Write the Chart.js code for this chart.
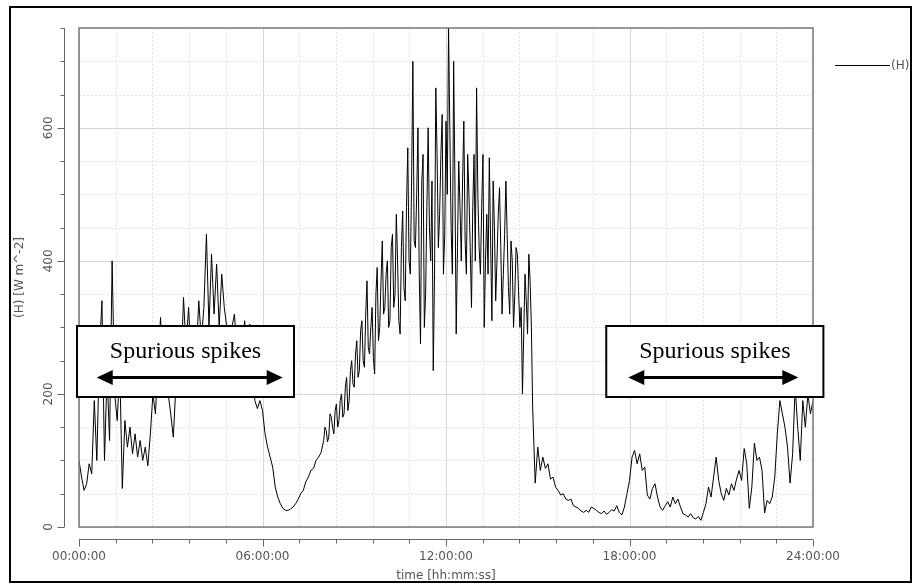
<!DOCTYPE html>
<html>
<head>
<meta charset="utf-8">
<script src="https://cdn.jsdelivr.net/npm/chart.js@4"></script>
<style>
  html, body { margin: 0; padding: 0; background: #fff; }
</style>
</head>
<body>
<canvas id="fluxChart" width="913" height="584"></canvas>
<script>
// sensible heat flux, one value every 5 minutes over the day
const seriesLabel = '(H)';
const sampleMinutes = 5;
const hValues = [
  100, 75, 55, 65, 95, 80, 190, 100, 260, 340, 100, 230,     // 00h
  130, 400, 200, 160, 240, 58, 160, 120, 150, 110, 140, 105, // 01h
  130, 100, 120, 92, 140, 200, 170, 250, 315, 220, 260, 200, // 02h
  170, 135, 210, 260, 230, 345, 270, 330, 250, 290, 260, 340, // 03h
  280, 330, 440, 300, 410, 320, 395, 300, 380, 330, 300, 280, // 04h
  300, 320, 260, 290, 270, 310, 250, 305, 240, 190, 178, 190, // 05h
  175, 140, 120, 105, 90, 60, 45, 35, 28, 25, 25, 27,         // 06h
  30, 35, 42, 50, 55, 68, 75, 85, 88, 100, 105, 112,          // 07h
  130, 145, 135, 165, 140, 185, 160, 200, 170, 225, 190, 250, // 08h
  210, 280, 235, 310, 240, 370, 260, 330, 230, 390, 300, 430, // 09h
  330, 400, 310, 440, 350, 400, 290, 475, 340, 570, 380, 700, // 10h
  420, 600, 275, 560, 350, 600, 400, 235, 660, 420, 560, 380, // 11h
  610, 750, 450, 700, 290, 550, 400, 610, 380, 500, 330, 560, // 12h
  660, 420, 480, 300, 470, 555, 310, 450, 400, 510, 320, 440, // 13h
  440, 320, 400, 350, 410, 300, 200, 380, 290, 370, 180, 66,  // 14h
  120, 85, 105, 88, 95, 72, 75, 60, 55, 48, 50, 42,           // 15h
  40, 42, 32, 30, 28, 24, 22, 25, 22, 30, 28, 25,             // 16h
  22, 20, 24, 19, 22, 26, 24, 32, 22, 18, 30, 50,             // 17h
  70, 105, 115, 95, 110, 85, 90, 48, 42, 58, 65, 45,          // 18h
  30, 25, 32, 38, 30, 45, 35, 42, 30, 20, 18, 15,             // 19h
  20, 14, 12, 16, 10, 22, 35, 60, 45, 75, 105, 70,            // 20h
  50, 40, 58, 48, 65, 55, 72, 85, 70, 118, 95, 28,            // 21h
  60, 126, 100, 105, 85, 21, 40, 35, 45, 75, 140, 190,        // 22h
  170, 150, 120, 66, 110, 210, 150, 100, 190, 150, 200, 170,  // 23h
  190                                                         // 24h
];
// extra readings halfway between samples in the noisy midday band (08:00-14:50)
const halfStepFrom = 96;
const hHalfValues = [
  150, 128, 170, 150, 175, 150, 190, 165, 210, 175, 235, 215, // 08h
  260, 225, 295, 250, 320, 270, 300, 255, 350, 280, 370, 320, // 09h
  380, 300, 420, 330, 470, 310, 420, 360, 480, 400, 520, 430, // 10h
  500, 380, 520, 300, 480, 450, 520, 380, 560, 470, 620, 440, // 11h
  500, 600, 380, 520, 420, 480, 520, 430, 560, 420, 480, 400, // 12h
  500, 380, 560, 400, 380, 430, 520, 340, 470, 420, 380, 520, // 13h
  360, 430, 300, 420, 350, 330, 290, 340, 410, 300            // 14h
];

const yMajorTicks = [0, 200, 400, 600];
const yMinorStep = 50;
const yMax = 750;
const xMajorTicks = [0, 6, 12, 18, 24];
const xTickLabels = ['00:00:00', '06:00:00', '12:00:00', '18:00:00', '24:00:00'];
const xMinorStep = 1.2;
const xTitle = 'time [hh:mm:ss]';
const yTitle = '(H) [W m^-2]';
const noteText = 'Spurious spikes';
// notes: box [fromHour, toHour] and arrow [fromHour, toHour]
const noteBoxes = [[-0.065, 7.03], [17.24, 24.34]];
const noteArrows = [[0.58, 6.66], [17.96, 23.52]];

const points = hValues.map((v, i) => ({ x: i * sampleMinutes / 60, y: v }))
  .concat(hHalfValues.map((v, j) => ({ x: (halfStepFrom + j + 0.5) * sampleMinutes / 60, y: v })))
  .sort((p, q) => p.x - q.x);

const labelFont = '12px "DejaVu Sans", sans-serif';
const labelColor = '#555';

const decor = {
  id: 'decor',
  beforeDatasetsDraw(chart) {
    const { ctx, chartArea: a, scales: { x, y } } = chart;
    ctx.save();
    ctx.lineWidth = 1;
    // minor grid, dotted
    ctx.strokeStyle = '#e3e3e3';
    ctx.setLineDash([2, 2]);
    for (let k = 0; k * yMinorStep <= yMax; k++) {
      const v = k * yMinorStep;
      if (yMajorTicks.includes(v)) continue;
      const py = Math.round(y.getPixelForValue(v)) + 0.5;
      ctx.beginPath(); ctx.moveTo(a.left, py); ctx.lineTo(a.right, py); ctx.stroke();
    }
    for (let k = 0; k <= 20; k++) {
      if (k % 5 === 0) continue;
      const px = Math.round(x.getPixelForValue(k * xMinorStep)) + 0.5;
      ctx.beginPath(); ctx.moveTo(px, a.top); ctx.lineTo(px, a.bottom); ctx.stroke();
    }
    // major grid, solid
    ctx.setLineDash([]);
    ctx.strokeStyle = '#d6d6d6';
    yMajorTicks.forEach(v => {
      const py = Math.round(y.getPixelForValue(v)) + 0.5;
      ctx.beginPath(); ctx.moveTo(a.left, py); ctx.lineTo(a.right, py); ctx.stroke();
    });
    xMajorTicks.forEach(h => {
      const px = Math.round(x.getPixelForValue(h)) + 0.5;
      ctx.beginPath(); ctx.moveTo(px, a.top); ctx.lineTo(px, a.bottom); ctx.stroke();
    });
    ctx.restore();
  },
  afterDraw(chart) {
    const { ctx, chartArea: a, scales: { x, y } } = chart;
    ctx.save();

    // plot frame
    ctx.strokeStyle = '#7a7a7a';
    ctx.lineWidth = 1.5;
    ctx.strokeRect(a.left, a.top, a.right - a.left, a.bottom - a.top);

    // detached y axis
    const axX = a.left - 14.5;
    ctx.strokeStyle = '#666';
    ctx.lineWidth = 1;
    ctx.beginPath(); ctx.moveTo(axX, a.top); ctx.lineTo(axX, a.bottom); ctx.stroke();
    for (let k = 0; k * yMinorStep <= yMax; k++) {
      const v = k * yMinorStep;
      const len = yMajorTicks.includes(v) ? 7 : 4;
      const py = Math.round(y.getPixelForValue(v)) + 0.5;
      ctx.beginPath(); ctx.moveTo(axX, py); ctx.lineTo(axX - len, py); ctx.stroke();
    }
    ctx.fillStyle = labelColor;
    ctx.font = labelFont;
    ctx.textAlign = 'center';
    ctx.textBaseline = 'middle';
    yMajorTicks.forEach(v => {
      ctx.save();
      ctx.translate(axX - 16, y.getPixelForValue(v));
      ctx.rotate(-Math.PI / 2);
      ctx.fillText(String(v), 0, 0);
      ctx.restore();
    });
    ctx.save();
    ctx.translate(20, (a.top + a.bottom) / 2);
    ctx.rotate(-Math.PI / 2);
    ctx.fillText(yTitle, 0, 0);
    ctx.restore();

    // detached x axis
    const axY = a.bottom + 12.5;
    ctx.beginPath(); ctx.moveTo(a.left, axY); ctx.lineTo(a.right, axY); ctx.stroke();
    for (let k = 0; k <= 20; k++) {
      const len = k % 5 === 0 ? 7 : 4;
      const px = Math.round(x.getPixelForValue(k * xMinorStep)) + 0.5;
      ctx.beginPath(); ctx.moveTo(px, axY); ctx.lineTo(px, axY + len); ctx.stroke();
    }
    xMajorTicks.forEach((h, i) => {
      ctx.fillText(xTickLabels[i], x.getPixelForValue(h), axY + 17);
    });
    ctx.fillText(xTitle, (a.left + a.right) / 2, 576);

    // legend
    ctx.strokeStyle = '#000';
    ctx.beginPath(); ctx.moveTo(835, 65.5); ctx.lineTo(890, 65.5); ctx.stroke();
    ctx.textAlign = 'left';
    ctx.fillText(seriesLabel, 891, 66);

    // annotation boxes
    noteBoxes.forEach((box, n) => {
      const bx0 = x.getPixelForValue(box[0]), bx1 = x.getPixelForValue(box[1]);
      const x0 = x.getPixelForValue(noteArrows[n][0]), x1 = x.getPixelForValue(noteArrows[n][1]);
      const by0 = 326, by1 = 397;
      ctx.fillStyle = '#fff';
      ctx.fillRect(bx0, by0, bx1 - bx0, by1 - by0);
      ctx.strokeStyle = '#000';
      ctx.lineWidth = 2;
      ctx.strokeRect(bx0, by0, bx1 - bx0, by1 - by0);
      ctx.fillStyle = '#000';
      ctx.font = '24px "Liberation Serif", "Times New Roman", serif';
      ctx.textAlign = 'center';
      ctx.textBaseline = 'alphabetic';
      ctx.fillText(noteText, (bx0 + bx1) / 2, 358);
      // double arrow
      const ay = 377.5;
      ctx.lineWidth = 3;
      ctx.beginPath(); ctx.moveTo(x0 + 10, ay); ctx.lineTo(x1 - 10, ay); ctx.stroke();
      ctx.beginPath();
      ctx.moveTo(x0, ay); ctx.lineTo(x0 + 16, ay - 7.5); ctx.lineTo(x0 + 16, ay + 7.5); ctx.closePath();
      ctx.moveTo(x1, ay); ctx.lineTo(x1 - 16, ay - 7.5); ctx.lineTo(x1 - 16, ay + 7.5); ctx.closePath();
      ctx.fill();
    });

    // outer frame
    ctx.strokeStyle = '#000';
    ctx.lineWidth = 2;
    ctx.strokeRect(10, 7, 901, 575);
    ctx.restore();
  }
};

new Chart(document.getElementById('fluxChart').getContext('2d'), {
  type: 'line',
  data: {
    datasets: [{
      label: seriesLabel,
      data: points,
      borderColor: '#000',
      borderWidth: 1,
      pointRadius: 0,
      tension: 0,
      fill: false
    }]
  },
  options: {
    responsive: false,
    animation: false,
    devicePixelRatio: 1,
    layout: { padding: { left: 79, right: 100, top: 28, bottom: 57 } },
    plugins: { legend: { display: false }, tooltip: { enabled: false } },
    scales: {
      x: { type: 'linear', min: 0, max: 24, display: false },
      y: { min: 0, max: yMax, display: false }
    }
  },
  plugins: [decor]
});
</script>
</body>
</html>
